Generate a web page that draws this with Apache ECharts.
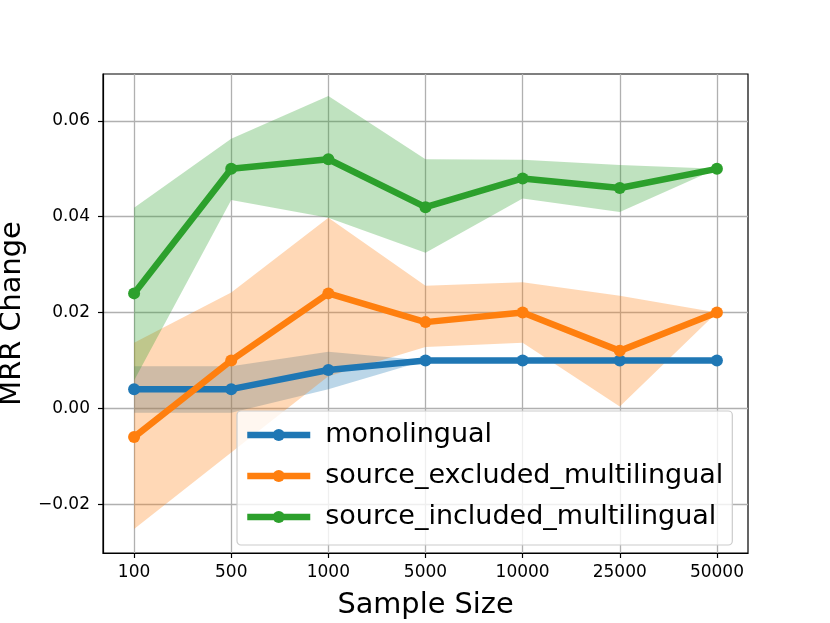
<!DOCTYPE html>
<html>
<head>
<meta charset="utf-8">
<script src="https://cdn.jsdelivr.net/npm/echarts@6/dist/echarts.min.js"></script>
<style>html,body{margin:0;padding:0;background:#fff;}#c{width:830px;height:623px;}</style>
</head>
<body>
<div id="c"></div>
<script>
const categories = ['100', '500', '1000', '5000', '10000', '25000', '50000'];
const yTicks = [-0.02, 0, 0.02, 0.04, 0.06];

const monoMean = [0.004, 0.004, 0.008, 0.010, 0.010, 0.010, 0.010];
const monoLow  = [-0.0009, -0.0009, 0.004, 0.010, 0.010, 0.010, 0.010];
const monoHigh = [0.0088, 0.0088, 0.0118, 0.010, 0.010, 0.010, 0.010];

const exclMean = [-0.006, 0.010, 0.024, 0.018, 0.020, 0.012, 0.020];
const exclLow  = [-0.0252, -0.0092, 0.0067, 0.0128, 0.0137, 0.0004, 0.020];
const exclHigh = [0.0137, 0.0242, 0.0398, 0.0256, 0.0263, 0.0235, 0.020];

const inclMean = [0.024, 0.050, 0.052, 0.042, 0.048, 0.046, 0.050];
const inclLow  = [0.0058, 0.0435, 0.0398, 0.0325, 0.0438, 0.0410, 0.050];
const inclHigh = [0.0419, 0.0563, 0.0652, 0.0520, 0.0519, 0.0508, 0.050];

const names = ['monolingual', 'source_excluded_multilingual', 'source_included_multilingual'];
const colors = ['#1f77b4', '#ff7f0e', '#2ca02c'];
const fills = ['rgba(31,119,180,0.3)', 'rgba(255,127,14,0.3)', 'rgba(44,160,44,0.3)'];

const groups = [
  {mean: monoMean, low: monoLow, high: monoHigh},
  {mean: exclMean, low: exclLow, high: exclHigh},
  {mean: inclMean, low: inclLow, high: inclHigh}
];

const FONT = 'DejaVu Sans';
const chart = echarts.init(document.getElementById('c'), null, {renderer: 'canvas'});

function bandSeries(g, k) {
  return {
    type: 'custom',
    silent: true,
    z: 1,
    data: g.low.map((v, i) => [i, g.low[i], g.high[i]]),
    encode: {x: 0, y: [1, 2]},
    renderItem: function (params, api) {
      if (params.dataIndex !== 0) return null;
      const pts = [];
      for (let i = 0; i < g.low.length; i++) pts.push(api.coord([i, g.low[i]]));
      for (let i = g.high.length - 1; i >= 0; i--) pts.push(api.coord([i, g.high[i]]));
      return {type: 'polygon', shape: {points: pts}, style: {fill: fills[k], stroke: null}};
    }
  };
}

function lineSeries(g, k) {
  return {
    name: names[k],
    type: 'line',
    z: 3 + k,
    data: g.mean.map((v, i) => [i, v]),
    symbol: 'circle',
    symbolSize: 12,
    showAllSymbol: true,
    lineStyle: {color: colors[k], width: 6.5},
    itemStyle: {color: colors[k], borderWidth: 0},
    emphasis: {disabled: true},
    animation: false
  };
}

const series = [];
groups.forEach((g, k) => series.push(bandSeries(g, k)));
groups.forEach((g, k) => series.push(lineSeries(g, k)));

chart.setOption({
  animation: false,
  backgroundColor: '#fff',
  grid: {left: 103, right: 82, top: 74, bottom: 70, show: true, borderColor: '#000', borderWidth: 1.2, backgroundColor: 'transparent', containLabel: false, outerBoundsMode: 'none'},
  xAxis: {
    type: 'value',
    min: -0.32, max: 6.32,
    name: 'Sample Size',
    nameLocation: 'middle',
    nameGap: 38,
    nameTextStyle: {fontFamily: FONT, fontSize: 28.8, color: '#000'},
    axisLine: {show: true, onZero: false, lineStyle: {color: '#000', width: 1.2}},
    axisTick: {show: true, customValues: categories.map((c, i) => i), length: 5, lineStyle: {color: '#000', width: 1.2}},
    axisLabel: {customValues: categories.map((c, i) => i), formatter: v => categories[Math.round(v)], fontFamily: FONT, fontSize: 17, color: '#000', margin: 11},
    splitLine: {show: true, lineStyle: {color: '#b0b0b0', width: 1.3}}
  },
  yAxis: {
    type: 'value',
    min: -0.0302, max: 0.0698,
    name: 'MRR Change',
    nameLocation: 'middle',
    nameGap: 66,
    nameTextStyle: {fontFamily: FONT, fontSize: 28.8, color: '#000'},
    axisLine: {show: true, onZero: false, lineStyle: {color: '#000', width: 1.2}},
    axisTick: {show: true, customValues: yTicks, length: 5, lineStyle: {color: '#000', width: 1.2}},
    axisLabel: {customValues: yTicks, formatter: v => v.toFixed(2).replace('-', '\u2212'), fontFamily: FONT, fontSize: 17, color: '#000', margin: 13},
    splitLine: {show: true, lineStyle: {color: '#b0b0b0', width: 1.3}}
  },
  legend: {
    data: names,
    orient: 'vertical',
    left: 237,
    top: 411,
    padding: [9, 9, 13, 7],
    itemGap: 11,
    itemWidth: 63,
    itemHeight: 15,
    backgroundColor: 'rgba(255,255,255,0.8)',
    borderColor: '#cccccc',
    borderWidth: 1.2,
    borderRadius: 4,
    lineStyle: {width: 6.5},
    textStyle: {fontFamily: FONT, fontSize: 27, color: '#000', lineHeight: 30, padding: [0, 0, 0, 10]},
    selectedMode: false
  },
  series: series
});
</script>
</body>
</html>
